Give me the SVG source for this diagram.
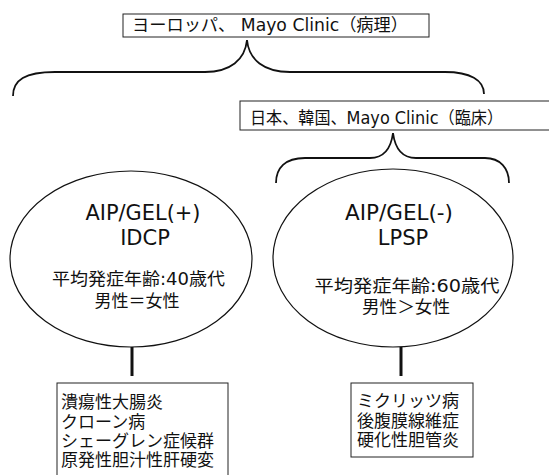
<svg xmlns="http://www.w3.org/2000/svg" width="549" height="475" viewBox="0 0 549 475">
<style>
.bg{fill:#fff}
.box{fill:#fff;stroke:#222;stroke-width:1}
.ell{fill:none;stroke:#111;stroke-width:1.2}
.brace{fill:none;stroke:#111;stroke-width:1.8}
.stem{stroke:#111;stroke-width:3}
text{font-family:"DejaVu Sans","Noto Sans CJK JP",sans-serif;fill:#111}
.hd{font-size:17px}
.big{font-size:21px;text-anchor:middle}
.mid{font-size:17px;text-anchor:middle}
.lst{font-size:17px}
</style>
<rect class="bg" x="0" y="0" width="549" height="475"/>
<g id="connectors">
<path class="brace" d="M13,96 C13,80 25,72 55,72 L205,72 C230,72 245,60 247,40 M247,40 C249,60 264,72 290,72 L445,72 C470,72 484,80 484,94"/>
<path class="brace" d="M276,183 C276,168 285,158 305,158 L370,158 C385,158 391,148 393,133 M393,133 C395,148 401,158 416,158 L485,158 C500,158 509,168 509,183"/>
<line class="stem" x1="132" y1="347" x2="132" y2="376"/>
<line class="stem" x1="401" y1="347" x2="401" y2="376"/>
</g>
<g id="top-box">
<rect class="box" x="123" y="14" width="306" height="23"/>
<text class="hd" x="132" y="31" textLength="276" lengthAdjust="spacingAndGlyphs">ヨーロッパ、 Mayo Clinic（病理）</text>
</g>
<g id="asia-box">
<rect class="box" x="240" y="101" width="312" height="29"/>
<text class="hd" x="250" y="124" textLength="253" lengthAdjust="spacingAndGlyphs">日本、韓国、Mayo Clinic（臨床）</text>
</g>
<g id="idcp">
<ellipse class="ell" cx="131" cy="259" rx="121" ry="88"/>
<text class="big" x="143" y="220" textLength="115" lengthAdjust="spacingAndGlyphs">AIP/GEL(+)</text>
<text class="big" x="145" y="245">IDCP</text>
<text class="mid" x="138.5" y="285" textLength="173" lengthAdjust="spacingAndGlyphs">平均発症年齢:40歳代</text>
<text class="mid" x="137" y="307" textLength="85" lengthAdjust="spacingAndGlyphs">男性＝女性</text>
</g>
<g id="lpsp">
<ellipse class="ell" cx="393" cy="258" rx="120" ry="89"/>
<text class="big" x="399" y="220" textLength="108" lengthAdjust="spacingAndGlyphs">AIP/GEL(-)</text>
<text class="big" x="403" y="245">LPSP</text>
<text class="mid" x="407" y="292" textLength="185" lengthAdjust="spacingAndGlyphs">平均発症年齢:60歳代</text>
<text class="mid" x="406" y="313" textLength="88" lengthAdjust="spacingAndGlyphs">男性＞女性</text>
</g>
<g id="idcp-list">
<rect class="box" x="57" y="383" width="171" height="100"/>
<text class="lst" x="61" y="408">潰瘍性大腸炎</text>
<text class="lst" x="61" y="428">クローン病</text>
<text class="lst" x="61" y="447">シェーグレン症候群</text>
<text class="lst" x="61" y="466">原発性胆汁性肝硬変</text>
</g>
<g id="lpsp-list">
<rect class="box" x="351" y="383" width="122" height="74"/>
<text class="lst" x="357" y="407">ミクリッツ病</text>
<text class="lst" x="357" y="427">後腹膜線維症</text>
<text class="lst" x="357" y="446">硬化性胆管炎</text>
</g>
</svg>
